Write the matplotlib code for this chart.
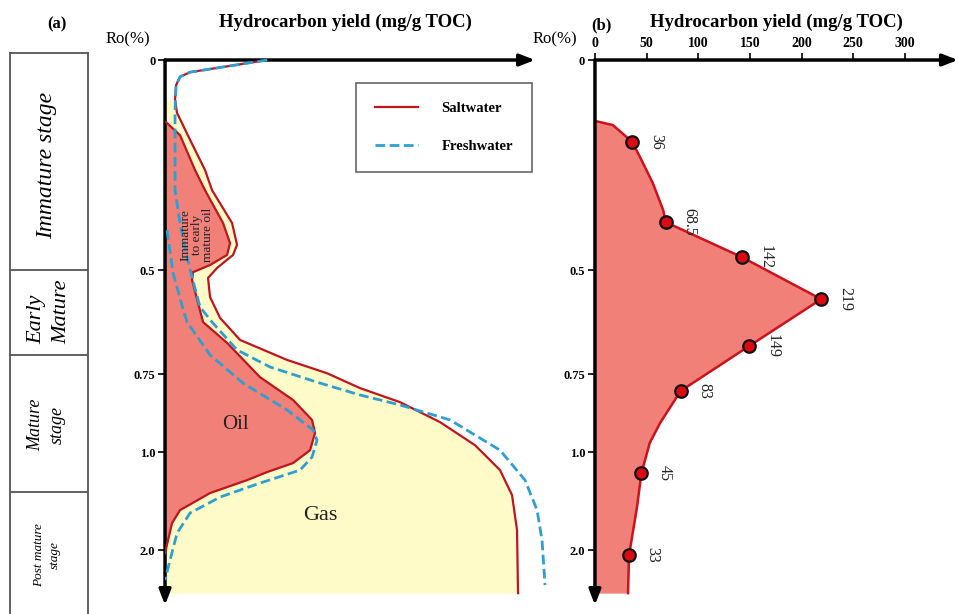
import numpy as np
import matplotlib
matplotlib.use("Agg")
import matplotlib.pyplot as plt
from matplotlib.lines import Line2D

plt.rcParams['font.family'] = ['Liberation Serif', 'DejaVu Serif']

# ---- data ----
# Ro (%) axis is drawn non-linear in the original; these are the labelled ticks
ro_ticks = [0, 0.5, 0.75, 1.0, 2.0]
ro_tick_labels = ['0', '0.5', '0.75', '1.0', '2.0']

# (a) saltwater: outer line (gas boundary) and inner line (oil boundary), relative yield
salt_outer_x = [102, 65, 25, 15, 11, 10, 12, 25, 40, 47, 67, 72, 68, 52, 43, 45, 55, 75,
                122, 162, 195, 235, 275, 310, 335, 347, 352, 353]
salt_outer_ro = [0.0, 0.014, 0.029, 0.040, 0.060, 0.095, 0.126, 0.190, 0.262, 0.310, 0.388,
                 0.440, 0.464, 0.495, 0.519, 0.565, 0.615, 0.668, 0.716, 0.748, 0.795, 0.840,
                 0.904, 0.978, 1.184, 1.439, 1.796, 2.439]
salt_inner_x = [1, 15, 30, 40, 58, 65, 62, 45, 28, 27, 33, 38, 62, 95, 128, 147, 150, 145,
                128, 102, 82, 45, 15, 7, 3, 0]
salt_inner_ro = [0.148, 0.179, 0.262, 0.310, 0.388, 0.436, 0.464, 0.488, 0.505, 0.524, 0.579,
                 0.625, 0.675, 0.760, 0.833, 0.897, 0.939, 0.994, 1.112, 1.204, 1.286, 1.418,
                 1.592, 1.724, 1.898, 2.031]

# (a) freshwater: outer and inner dashed lines
fresh_outer_x = [102, 65, 25, 15, 11, 10, 10, 15, 22, 27, 35, 47, 72, 105, 152, 195, 235,
                 285, 335, 360, 372, 377, 380]
fresh_outer_ro = [0.0, 0.014, 0.029, 0.040, 0.060, 0.119, 0.310, 0.388, 0.469, 0.517, 0.589,
                  0.625, 0.692, 0.733, 0.776, 0.817, 0.849, 0.897, 0.994, 1.286, 1.592,
                  1.898, 2.357]
fresh_inner_x = [2, 8, 18, 22, 45, 78, 122, 148, 152, 147, 135, 95, 55, 25, 12, 5, 0]
fresh_inner_ro = [0.405, 0.507, 0.594, 0.625, 0.704, 0.779, 0.865, 0.929, 0.962, 1.051, 1.184,
                  1.316, 1.459, 1.622, 1.827, 2.102, 2.306]

# (b) measured hydrocarbon yield (mg/g TOC)
yield_vals = [36, 68.5, 142, 219, 149, 83, 45, 33]
yield_ro = [0.195, 0.386, 0.469, 0.570, 0.683, 0.804, 1.214, 2.051]
yield_labels = ['36', '68.5', '142', '219', '149', '83', '45', '33']
# envelope traced in (b), including the points above
env_x = [0, 17.4, 36, 43.6, 56, 66, 68.5, 142, 219, 149, 83, 63, 53, 45, 40.7, 33, 32]
env_ro = [0.145, 0.155, 0.195, 0.231, 0.293, 0.357, 0.386, 0.469, 0.570, 0.683, 0.804,
          0.907, 0.971, 1.214, 1.561, 2.051, 2.439]

# maturity stages (boundaries in Ro)
stage_bounds = [0.5, 0.704, 1.408]

# ---- non-linear Ro scale ----
RO_BRK = [-1, 0, 0.5, 0.75, 1.0, 2.0, 6.0]
POS_BRK = [-420, 0, 210, 314, 392, 490, 882]


def fwd(v):
    return np.interp(v, RO_BRK, POS_BRK)


def inv(p):
    return np.interp(p, POS_BRK, RO_BRK)


RED_FILL = '#F08078'
YELLOW = '#FFFBC8'
RED_LINE = '#C0141E'
BLUE = '#2E9FD0'
bold9 = dict(fontsize=9, fontweight='bold')

fig = plt.figure(figsize=(9.59, 6.14), dpi=100)

ax_a = fig.add_axes([0.1721, 0.01466, 0.3858, 0.8876])
ax_b = fig.add_axes([0.6204, 0.01466, 0.3785, 0.8876])
ax_s = fig.add_axes([0.0104, 0.0, 0.0814, 0.9137])

for ax in (ax_a, ax_b):
    ax.set_yscale('function', functions=(fwd, inv))
    ax.set_ylim(2.56, 0)
    for sp in ax.spines.values():
        sp.set_visible(False)
    ax.set_yticks(ro_ticks)
    ax.set_yticklabels(ro_tick_labels, **bold9)
    ax.tick_params(axis='y', direction='out', length=5, width=1.2, pad=2)
    # axis lines with arrow heads
    arr = dict(arrowstyle='-|>,head_length=0.9,head_width=0.35', lw=2.5, color='k',
               shrinkA=0, shrinkB=0)
    ax.annotate('', xy=(1, 1), xytext=(0, 1), xycoords='axes fraction', arrowprops=arr)
    ax.annotate('', xy=(0, 0), xytext=(0, 1), xycoords='axes fraction', arrowprops=arr)

# ---- panel (a) ----
ax_a.set_xlim(0, 370)
ax_a.set_xticks([])
so_x = np.array(salt_outer_x)
so_ro = np.array(salt_outer_ro)
m = so_ro >= 0.09
ax_a.fill_betweenx(so_ro[m], 0, so_x[m], color=YELLOW, lw=0, zorder=1)
ax_a.fill_betweenx(salt_inner_ro, 0, salt_inner_x, color=RED_FILL, lw=0, zorder=2)
ax_a.plot(salt_outer_x, salt_outer_ro, color=RED_LINE, lw=1.6, zorder=3)
ax_a.plot(salt_inner_x, salt_inner_ro, color=RED_LINE, lw=1.6, zorder=3)
ax_a.plot(fresh_outer_x, fresh_outer_ro, color=BLUE, lw=2, ls=(0, (3.5, 1.6)), zorder=4,
          clip_on=False)
ax_a.plot(fresh_inner_x, fresh_inner_ro, color=BLUE, lw=2, ls=(0, (3.5, 1.6)), zorder=4)

ax_a.text(70, 0.913, 'Oil', fontsize=15, ha='center', va='center', color='#222', zorder=5)
ax_a.text(155, 1.643, 'Gas', fontsize=16, ha='center', va='center', color='#222', zorder=5)
ax_a.text(32, 0.417, 'Immature\nto early\nmature oil', fontsize=9.5, rotation=90,
          ha='center', va='center', linespacing=0.9, color='#222', zorder=5)

handles = [Line2D([], [], color=RED_LINE, lw=1.6),
           Line2D([], [], color=BLUE, lw=2, ls=(0, (3.5, 1.6)))]
leg = ax_a.legend(handles, ['Saltwater', 'Freshwater'], loc='upper right',
                  bbox_to_anchor=(0.992, 0.958), prop=dict(size=10.5, weight='bold'),
                  fancybox=False, edgecolor='#666', framealpha=1, handlelength=3.0,
                  handletextpad=1.6, labelspacing=1.7, borderpad=1.3, borderaxespad=0)
leg.get_frame().set_linewidth(1.2)

# ---- panel (b) ----
ax_b.set_xlim(0, 351.4)
ax_b.xaxis.tick_top()
ax_b.set_xticks([0, 50, 100, 150, 200, 250, 300])
ax_b.set_xticklabels(['0', '50', '100', '150', '200', '250', '300'], fontsize=10,
                     fontweight='bold')
ax_b.tick_params(axis='x', direction='out', length=5, width=1.2, pad=2)
ax_b.fill_betweenx(env_ro, 0, env_x, color=RED_FILL, lw=0, zorder=1)
ax_b.plot(env_x, env_ro, color='#D0101A', lw=1.8, zorder=2)
ax_b.plot(yield_vals, yield_ro, 'o', ms=9, mfc='#DD0A14', mec='#111', mew=1.6, zorder=3)
for v, r, lab in zip(yield_vals, yield_ro, yield_labels):
    ax_b.annotate(lab, (v, r), xytext=(17, 0), textcoords='offset points', rotation=-90,
                  ha='center', va='center', fontsize=11.5, color='#222')

# ---- stage column ----
ax_s.set_yscale('function', functions=(fwd, inv))
ax_s.set_ylim(2.653, -0.0167)
ax_s.set_xlim(0, 1)
ax_s.set_xticks([])
ax_s.set_yticks([])
ax_s.spines['bottom'].set_visible(False)
for k in ('left', 'right', 'top'):
    ax_s.spines[k].set_linewidth(1.3)
    ax_s.spines[k].set_color('#555')
for b in stage_bounds:
    ax_s.axhline(b, color='#555', lw=1.3)
ax_s.text(0.47, 0.25, 'Immature stage', rotation=90, ha='center', va='center',
          fontsize=17, style='italic')
ax_s.text(0.5, 0.601, 'Early\nMature', rotation=90, ha='center', va='center',
          fontsize=16, style='italic', multialignment='left', linespacing=1.45)
ax_s.text(0.47, 0.913, 'Mature\nstage', rotation=90, ha='center', va='center',
          fontsize=13, style='italic', linespacing=1.3)
ax_s.text(0.47, 2.05, 'Post mature\nstage', rotation=90, ha='center', va='center',
          fontsize=9.5, style='italic', linespacing=1.4)

# ---- headings ----
fig.text(57 / 959, 1 - 24 / 614, '(a)', ha='center', va='center', fontsize=12, fontweight='bold')
fig.text(601 / 959, 1 - 25 / 614, '(b)', ha='center', va='center', fontsize=12, fontweight='bold')
fig.text(345 / 959, 1 - 22 / 614, 'Hydrocarbon yield (mg/g TOC)', ha='center', va='center',
         fontsize=13.5, fontweight='bold')
fig.text(776 / 959, 1 - 22 / 614, 'Hydrocarbon yield (mg/g TOC)', ha='center', va='center',
         fontsize=13.5, fontweight='bold')
fig.text(128 / 959, 1 - 39 / 614, 'Ro(%)', ha='center', va='center', fontsize=12)
fig.text(555 / 959, 1 - 39 / 614, 'Ro(%)', ha='center', va='center', fontsize=12)

fig.savefig('out.png', dpi=100)
